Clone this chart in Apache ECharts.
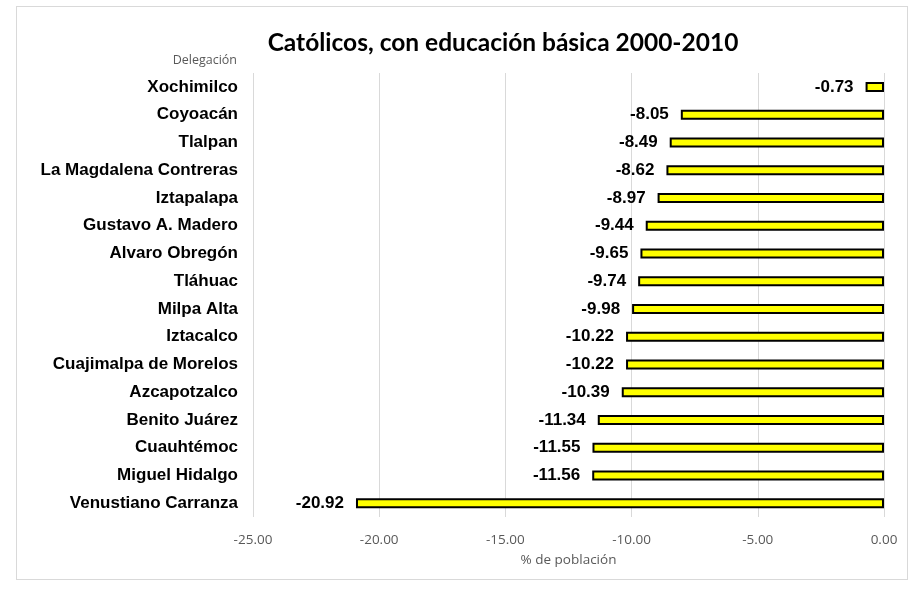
<!DOCTYPE html>
<html>
<head>
<meta charset="utf-8">
<script src="https://cdn.jsdelivr.net/npm/echarts@6/dist/echarts.min.js"></script>
<style>
html,body{margin:0;padding:0;background:#fff;}
#frame{position:absolute;left:16px;top:6px;width:892px;height:574px;border:1px solid #d9d9d9;box-sizing:border-box;}
#chart{position:absolute;left:0;top:0;width:922px;height:591px;}
</style>
</head>
<body>
<div id="frame"></div>
<div id="chart"></div>
<script>
const categories = ["Xochimilco","Coyoacán","Tlalpan","La Magdalena Contreras","Iztapalapa","Gustavo A. Madero","Alvaro Obregón","Tláhuac","Milpa Alta","Iztacalco","Cuajimalpa de Morelos","Azcapotzalco","Benito Juárez","Cuauhtémoc","Miguel Hidalgo","Venustiano Carranza"];
const values = [-0.73,-8.05,-8.49,-8.62,-8.97,-9.44,-9.65,-9.74,-9.98,-10.22,-10.22,-10.39,-11.34,-11.55,-11.56,-20.92];
const titleText = "Católicos, con educación básica 2000-2010";
const yName = "Delegación";
const xName = "% de población";

const chart = echarts.init(document.getElementById('chart'), null, {renderer:'canvas'});
chart.setOption({
  backgroundColor: 'transparent',
  animation: false,
  title: {
    text: titleText,
    left: 498, top: 26, textAlign: 'center',
    textStyle: {fontFamily: 'Lato', fontWeight: 'bold', fontSize: 24.5, color: '#000'}
  },
  grid: {left: 253, right: 38, top: 73, bottom: 74, containLabel: false},
  xAxis: {
    type: 'value', min: -25, max: 0, interval: 5,
    name: xName, nameLocation: 'middle', nameGap: 36,
    nameTextStyle: {fontFamily: 'Open Sans', fontSize: 13.5, color: '#595959'},
    axisLine: {show: false}, axisTick: {show: false},
    axisLabel: {formatter: v => v.toFixed(2), fontFamily: 'Open Sans', fontSize: 13.5, color: '#595959', margin: 16},
    splitLine: {show: true, lineStyle: {color: '#d9d9d9', width: 1}}
  },
  yAxis: {
    type: 'category', data: categories, inverse: true,
    name: yName, nameLocation: 'start', nameGap: 6,
    nameTextStyle: {fontFamily: 'Open Sans', fontSize: 12.5, color: '#595959', align: 'right', padding: [0, 16, 0, 0]},
    axisLine: {show: false, onZero: false}, axisTick: {show: false},
    axisLabel: {fontFamily: 'Liberation Sans', fontWeight: 'bold', fontSize: 17, color: '#000', margin: 15},
    splitLine: {show: false}
  },
  series: [{
    type: 'bar', data: values, barWidth: 10,
    itemStyle: {color: '#ffff00', borderColor: '#000', borderWidth: 2},
    label: {show: true, position: 'left', distance: 12, formatter: p => p.value.toFixed(2),
      fontFamily: 'Liberation Sans', fontWeight: 'bold', fontSize: 17, color: '#000'}
  }]
});
</script>
</body>
</html>
